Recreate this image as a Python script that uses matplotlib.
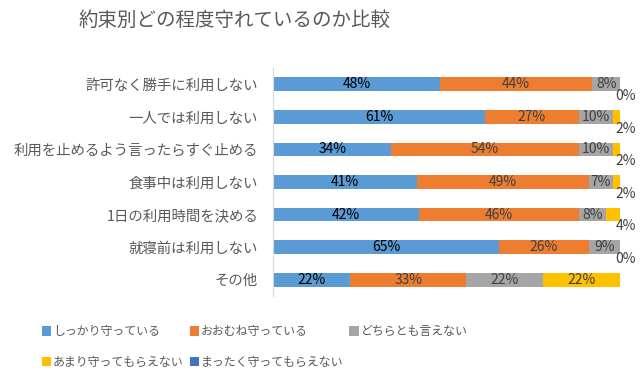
import matplotlib
matplotlib.use("Agg")
import matplotlib.pyplot as plt
import numpy as np

plt.rcParams['font.family'] = ['Noto Sans CJK JP', 'DejaVu Sans']

# data
categories = ['許可なく勝手に利用しない', '一人では利用しない', '利用を止めるよう言ったらすぐ止める',
              '食事中は利用しない', '1日の利用時間を決める', '就寝前は利用しない', 'その他']
series = ['しっかり守っている', 'おおむね守っている', 'どちらとも言えない',
          'あまり守ってもらえない', 'まったく守ってもらえない']
shikkari = [48, 61, 34, 41, 42, 65, 22]
oomune = [44, 27, 54, 49, 46, 26, 33]
dochira = [8, 10, 10, 7, 8, 9, 22]
amari = [0, 2, 2, 2, 4, 0, 22]
mattaku = [0, 0, 0, 0, 0, 0, 0]

colors = ['#5B9BD5', '#ED7D31', '#A5A5A5', '#FFC000', '#4472C4']

vals = np.array([shikkari, oomune, dochira, amari, mattaku], dtype=float)
share = vals / vals.sum(axis=0) * 100  # 100% stacked

fig = plt.figure(figsize=(6.4, 3.84), dpi=100)
ax = fig.add_axes([0.427, 0.229, 0.542, 0.594])

y = np.arange(len(categories))
left = np.zeros(len(categories))
handles = []
for i in range(len(series)):
    h = ax.barh(y, share[i], left=left, height=0.42, color=colors[i], label=series[i])
    handles.append(h)
    for j in range(len(categories)):
        v = vals[i, j]
        if i < 3 or (i == 3 and share[i, j] > 10):
            if v > 0:
                c = '#000000' if i == 0 else '#404040'
                ax.text(left[j] + share[i, j] / 2, y[j], f'{int(v)}%', ha='center', va='center',
                        fontsize=10, color=c)
        elif i == 3:
            ax.text(101.6, y[j] + 0.36, f'{int(v)}%', ha='center', va='center',
                    fontsize=10, color='#404040')
    left += share[i]

ax.set_xlim(0, 100)
ax.set_ylim(len(categories) - 0.5, -0.5)
ax.set_yticks(y)
ax.set_yticklabels(categories, fontsize=10.4, color='#595959')
ax.tick_params(axis='y', length=0, pad=11)
ax.set_xticks([])
for s in ['top', 'right', 'bottom']:
    ax.spines[s].set_visible(False)
ax.spines['left'].set_color('#D9D9D9')

fig.text(0.366, 0.948, '約束別どの程度守れているのか比較', ha='center', va='center',
         fontsize=14, color='#595959')

order = [0, 3, 1, 4, 2]
leg = fig.legend([handles[k] for k in order], [series[k] for k in order],
                 ncol=3, loc='upper left', bbox_to_anchor=(0.052, 0.175),
                 frameon=False, fontsize=8.6, handlelength=0.8, handleheight=0.8,
                 handletextpad=0.15, columnspacing=0.5, labelspacing=1.5,
                 borderpad=0.2)
for t in leg.get_texts():
    t.set_color('#595959')

fig.savefig('out.png', dpi=100)
